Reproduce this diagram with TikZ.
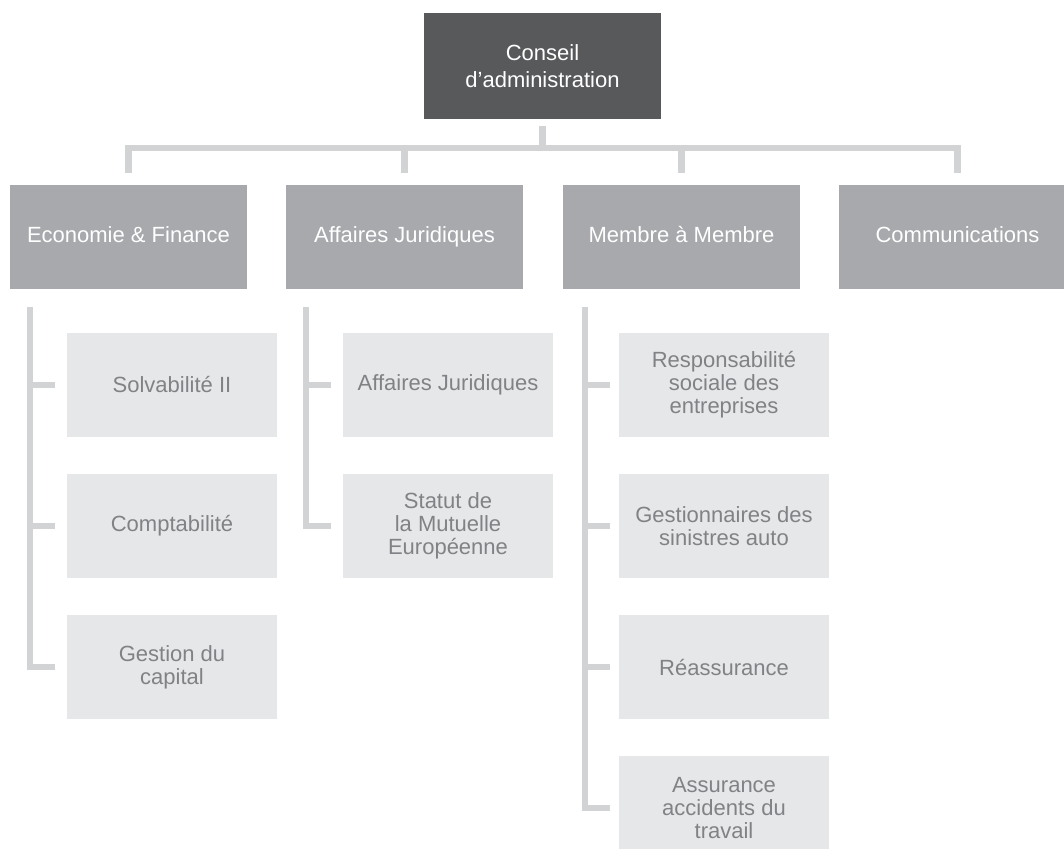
\documentclass[tikz,border=0pt]{standalone}
\usepackage{fontspec}
\setmainfont{Liberation Sans}
\usepackage{tikz}
\usetikzlibrary{calc,positioning}
\definecolor{colorboard}{HTML}{58595B}
\definecolor{colordept}{HTML}{A7A9AC}
\definecolor{colorgroup}{HTML}{E6E7E8}
\definecolor{colorlink}{HTML}{D1D3D4}
\definecolor{colorgtext}{HTML}{808285}
\tikzset{
  boxboard/.style={fill=colorboard, text=white, inner sep=0pt, minimum width=237pt, minimum height=106pt, align=center, font=\fontsize{22}{27}\selectfont},
  boxdept/.style={fill=colordept, text=white, inner sep=0pt, minimum width=237pt, minimum height=104pt, text height=16pt, text depth=5pt, font=\fontsize{22}{23}\selectfont},
  boxgroup/.style={fill=colorgroup, text=colorgtext, inner sep=0pt, minimum width=210pt, minimum height=104pt, align=center, font=\fontsize{22}{23}\selectfont},
  link/.style={colorlink, line width=6.5pt}
}

\begin{document}
\begin{tikzpicture}[x=1pt, y=-1pt]
\useasboundingbox (0,0) rectangle (1064,848);
\clip (0,0) rectangle (1064,848);
% board and departments
\node[boxboard] (board) at (542.5,66) {Conseil\\d’administration};
\node[boxdept] (econ) at (128.5,237) {Economie \& Finance};
\node[boxdept] (jur) at (404.5,237) {Affaires Juridiques};
\node[boxdept] (memb) at (681.5,237) {Membre à Membre};
\node[boxdept] (comm) at (957.5,237) {Communications};
% working groups
\node[boxgroup] (solv) at (172,385) {Solvabilité II};
\node[boxgroup] (compta) at (172,526) {Comptabilité};
\node[boxgroup] (capital) at (172,667) {Gestion du\\capital};
\node[boxgroup] (affjur) at (448,385) {Affaires Juridiques};
\node[boxgroup] (statut) at (448,526) {Statut de\\la Mutuelle\\Européenne};
\node[boxgroup] (rse) at (724,385) {Responsabilité\\sociale des\\entreprises};
\node[boxgroup] (sinistres) at (724,526) {Gestionnaires des\\sinistres auto};
\node[boxgroup] (reass) at (724,667) {Réassurance};
\node[boxgroup] (accidents) at (724,808) {Assurance\\accidents du\\travail};
% tree
\coordinate (hub) at (542.5,148);
\draw[link] ([yshift=-7pt]board.south) -- (hub);
\draw[link] ([yshift=12pt]econ.north) |- (hub) -| ([yshift=12pt]comm.north);
\draw[link] (hub -| jur.north) -- ([yshift=12pt]jur.north);
\draw[link] (hub -| memb.north) -- ([yshift=12pt]memb.north);
% rails
\coordinate (econrail) at ([xshift=20pt,yshift=-18pt]econ.south west);
\coordinate (jurrail) at ([xshift=20pt,yshift=-18pt]jur.south west);
\coordinate (membrail) at ([xshift=22pt,yshift=-18pt]memb.south west);
\draw[link] (econrail) |- ([xshift=-12pt]capital.west);
\draw[link] (jurrail) |- ([xshift=-12pt]statut.west);
\draw[link] (membrail) |- ([xshift=-9pt]accidents.west);
\foreach \g in {solv,compta}
  \draw[link] (econrail |- \g.west) -- ([xshift=-12pt]\g.west);
\draw[link] (jurrail |- affjur.west) -- ([xshift=-12pt]affjur.west);
\foreach \g in {rse,sinistres,reass}
  \draw[link] (membrail |- \g.west) -- ([xshift=-9pt]\g.west);
\end{tikzpicture}
\end{document}
